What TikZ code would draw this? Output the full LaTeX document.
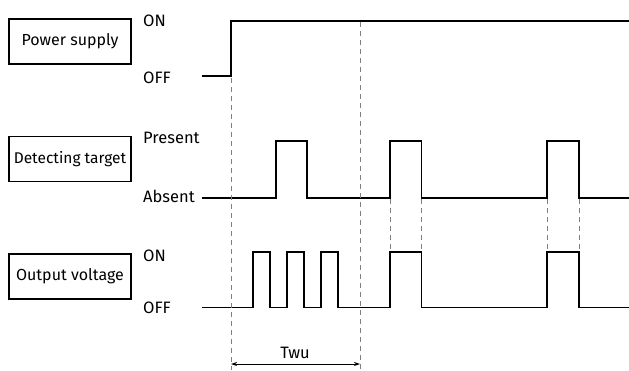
\documentclass[tikz,border=0pt]{standalone}
\usepackage{fontspec}
\setmainfont{Fira Sans}
\usetikzlibrary{arrows.meta}
\begin{document}
\begin{tikzpicture}[x=1pt,y=-1pt,
  label box/.style={draw,line width=1.2pt,minimum width=122pt,minimum height=45pt,inner sep=0pt,font=\fontsize{16}{18}\selectfont},
  level/.style={anchor=west,inner sep=0pt,font=\fontsize{16.5}{18}\selectfont},
  wave/.style={line width=1.5pt,line join=miter},
  guide/.style={draw=gray,dashed,line width=1pt,dash pattern=on 5pt off 4pt},
  dim/.style={line width=0.9pt,{Stealth[length=6pt,width=4pt]}-{Stealth[length=6pt,width=4pt]}}]
\useasboundingbox (0,0) rectangle (629,370);
% label boxes
\node[label box] (ps) at (70,41.5) {Power supply};
\node[label box] (dt) at (70,159) {\fontsize{15.5}{17}\selectfont Detecting target};
\node[label box] (ov) at (70,276.5) {Output voltage};
% level labels
\node[level] (psOn) at (143,20.5) {ON};
\node[level] (psOff) at (143,77.5) {OFF};
\node[level] (dtP) at (143,138) {Present};
\node[level] (dtA) at (143,196) {Absent};
\node[level] (ovOn) at (143,256) {ON};
\node[level] (ovOff) at (143,308) {OFF};
% waveforms
\draw[wave] (202,76) -- (231,76) -- (231,21) -- (629,21);
\draw[wave] (202,198) -- (276,198) -- (276,141) -- (307,141) -- (307,198)
  -- (390,198) -- (390,141) -- (421.5,141) -- (421.5,198)
  -- (547,198) -- (547,141) -- (579,141) -- (579,198) -- (629,198);
\draw[wave] (202,307.5) -- (253,307.5) -- (253,252) -- (270,252) -- (270,307.5)
  -- (287,307.5) -- (287,252) -- (304,252) -- (304,307.5)
  -- (321,307.5) -- (321,252) -- (338,252) -- (338,307.5)
  -- (390,307.5) -- (390,252) -- (421.5,252) -- (421.5,307.5)
  -- (547,307.5) -- (547,252) -- (579,252) -- (579,307.5) -- (629,307.5);
% guide lines
\coordinate (g1t) at (231,78);
\coordinate (g1b) at (231,370);
\coordinate (g2t) at (360,22);
\coordinate (g2b) at (360,370);
\draw[guide] (g1t) -- (g1b);
\draw[guide] (g2t) -- (g2b);
\foreach \x in {390,421.5,547,579}{
  \draw[guide] (\x,199) -- (\x,251);
}
% Twu dimension
\coordinate (a1) at (231,364);
\coordinate (a2) at (360,364);
\draw[dim] (a1) -- (a2);
\node[level,anchor=center] (twu) at (295,353) {Twu};
\end{tikzpicture}
\end{document}
